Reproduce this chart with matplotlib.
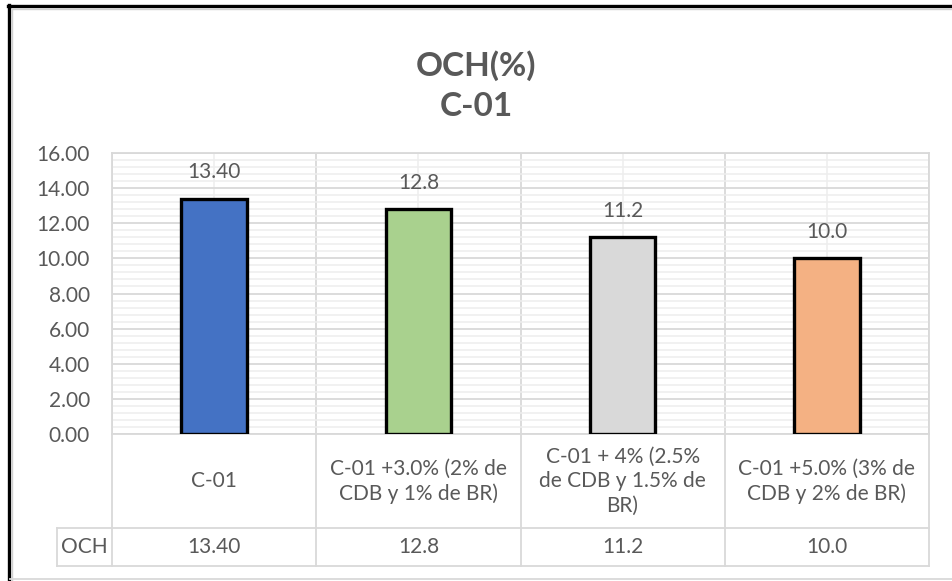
import numpy as np
import matplotlib.pyplot as plt
from matplotlib.ticker import MultipleLocator, FormatStrFormatter
from matplotlib.transforms import blended_transform_factory

plt.rcParams['font.family'] = ['Lato', 'DejaVu Sans']

# data
categories = ['C-01',
              'C-01 +3.0% (2% de\nCDB y 1% de BR)',
              'C-01 + 4% (2.5%\nde CDB y 1.5% de\nBR)',
              'C-01 +5.0% (3% de\nCDB y 2% de BR)']
och = [13.40, 12.8, 11.2, 10.0]
value_labels = ['13.40', '12.8', '11.2', '10.0']
row_name = 'OCH'
bar_colors = ['#4472C4', '#A9D18E', '#D9D9D9', '#F4B183']

W, H = 952, 581
txt = '#595959'
grid_c = '#D9D9D9'
minor_c = '#EEEEEE'

fig = plt.figure(figsize=(W / 100, H / 100), dpi=100)
ax = fig.add_axes([112 / W, 1 - 434 / H, 817 / W, 281 / H])

x = np.arange(len(och))
ax.bar(x, och, width=0.32, color=bar_colors, edgecolor='black',
       linewidth=2.4, zorder=3)

for xi, v, lab in zip(x, och, value_labels):
    ax.annotate(lab, (xi, v), xytext=(0, 19), textcoords='offset points',
                ha='center', va='center', fontsize=15, color=txt)

ax.set_xlim(-0.5, 3.5)
ax.set_ylim(0, 16)
ax.yaxis.set_major_locator(MultipleLocator(2))
ax.yaxis.set_minor_locator(MultipleLocator(0.4))
ax.yaxis.set_major_formatter(FormatStrFormatter('%.2f'))
ax.set_xticks(np.arange(-0.5, 4, 1))
ax.set_xticks(x, minor=True)
ax.tick_params(axis='x', which='both', length=0, labelbottom=False)
ax.tick_params(axis='y', which='both', length=0, labelsize=15,
               labelcolor=txt, pad=16)
ax.grid(which='major', color=grid_c, lw=1.3, zorder=1)
ax.grid(which='minor', color=minor_c, lw=1.1, zorder=0)
for s in ax.spines.values():
    s.set_color(grid_c)
    s.set_linewidth(1.3)

# data table under the plot
tr = blended_transform_factory(ax.transData, ax.transAxes)
r1 = -94 / 281
r2 = -132 / 281
xl = -0.5 - 55 / 204.25
tbl = dict(color=grid_c, lw=1.3, transform=tr, clip_on=False)
for b in np.arange(-0.5, 4, 1):
    ax.plot([b, b], [0, r2], **tbl)
ax.plot([xl, 3.5], [r1, r1], **tbl)
ax.plot([xl, 3.5], [r2, r2], **tbl)
ax.plot([xl, xl], [r1, r2], **tbl)

for xi, cat, lab in zip(x, categories, value_labels):
    ax.text(xi, r1 / 2, cat, transform=tr, ha='center', va='center',
            fontsize=15, color=txt, linespacing=1.28)
    ax.text(xi, (r1 + r2) / 2, lab, transform=tr, ha='center',
            va='center', fontsize=15, color=txt)
ax.text((xl - 0.5) / 2, (r1 + r2) / 2, row_name, transform=tr,
        ha='center', va='center', fontsize=15, color=txt)

# title
fig.text(0.5, 1 - 66 / H, 'OCH(%)', ha='center', va='center',
         fontsize=24, fontweight='bold', color=txt)
fig.text(0.5, 1 - 106 / H, 'C-01', ha='center', va='center',
         fontsize=24, fontweight='bold', color=txt)

# chart frame
def fline(x0, y0, x1, y1, **kw):
    fig.add_artist(plt.Line2D([x0 / W, x1 / W], [1 - y0 / H, 1 - y1 / H],
                              transform=fig.transFigure, **kw))

fline(8, 6, W, 6, color='black', lw=2.4)
fline(9, 5, 9, H, color='black', lw=2.4)
fline(11.5, 8.5, W, 8.5, color='#D0D0D0', lw=1)
fline(11.5, 8.5, 11.5, H, color='#D0D0D0', lw=1)
fline(10, 578.5, W, 578.5, color=grid_c, lw=1.3)

fig.savefig('out.png', dpi=100)
